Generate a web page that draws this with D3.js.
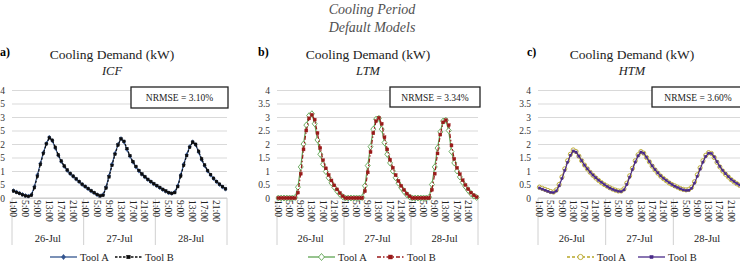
<!DOCTYPE html>
<html>
<head>
<script src="https://d3js.org/d3.v7.min.js"></script>
<style>
  body { margin: 0; background: #fff; }
  svg text { font-family: "Liberation Serif", "DejaVu Serif", serif !important; }
</style>
</head>
<body>
<script>
// ---- data ----
const days = ["26-Jul", "27-Jul", "28-Jul"];
const hourLabels = d3.range(1, 25).map(h => h + ":00");
const yTicks = [0, 0.5, 1, 1.5, 2, 2.5, 3, 3.5, 4];

const icfToolA = [0.27,0.22,0.18,0.13,0.09,0.07,0.12,0.42,0.85,1.28,1.68,2.02,2.25,2.12,1.85,1.58,1.35,1.17,1.02,0.9,0.8,0.7,0.6,0.5,
                  0.42,0.34,0.26,0.19,0.12,0.08,0.12,0.4,0.82,1.25,1.65,1.98,2.2,2.08,1.8,1.55,1.33,1.15,1.0,0.88,0.78,0.68,0.6,0.52,
                  0.45,0.38,0.31,0.25,0.19,0.17,0.22,0.45,0.85,1.25,1.6,1.9,2.08,1.97,1.7,1.42,1.2,1.0,0.85,0.72,0.6,0.5,0.41,0.33];
const icfToolB = [0.26,0.21,0.17,0.12,0.08,0.06,0.1,0.38,0.8,1.24,1.65,2.0,2.23,2.14,1.88,1.6,1.37,1.19,1.04,0.91,0.81,0.71,0.61,0.51,
                  0.43,0.35,0.27,0.2,0.13,0.08,0.1,0.37,0.78,1.21,1.62,1.96,2.19,2.1,1.83,1.57,1.35,1.17,1.02,0.89,0.79,0.69,0.61,0.53,
                  0.46,0.39,0.32,0.26,0.2,0.17,0.2,0.42,0.81,1.21,1.57,1.88,2.07,1.99,1.73,1.45,1.22,1.02,0.87,0.73,0.61,0.51,0.42,0.34];

const ltmToolA = [0,0,0,0,0,0,0.02,0.4,1.15,2.0,2.7,3.05,3.12,2.75,2.15,1.62,1.25,0.98,0.75,0.56,0.4,0.26,0.14,0.05,
                  0,0,0,0,0,0,0.02,0.45,1.2,1.9,2.55,2.92,2.95,2.55,2.05,1.62,1.3,1.0,0.75,0.55,0.38,0.24,0.12,0.04,
                  0,0,0,0,0,0,0.03,0.5,1.15,1.85,2.45,2.85,2.88,2.5,1.72,1.3,1.0,0.78,0.58,0.42,0.28,0.16,0.07,0.02];
const ltmToolB = [0,0,0,0,0,0,0,0.2,0.9,1.8,2.5,2.95,3.08,2.9,2.4,1.85,1.4,1.1,0.85,0.65,0.47,0.32,0.18,0.07,
                  0,0,0,0,0,0,0,0.25,0.95,1.7,2.4,2.85,2.97,2.75,2.25,1.8,1.42,1.12,0.85,0.63,0.45,0.3,0.16,0.06,
                  0,0,0,0,0,0,0,0.3,0.9,1.65,2.35,2.8,2.88,2.7,1.95,1.45,1.12,0.88,0.66,0.48,0.33,0.2,0.1,0.03];

const htmToolA = [0.4,0.36,0.32,0.28,0.24,0.22,0.3,0.5,0.78,1.08,1.38,1.62,1.78,1.72,1.55,1.38,1.22,1.08,0.95,0.84,0.74,0.65,0.57,0.5,
                  0.44,0.38,0.33,0.29,0.26,0.26,0.34,0.55,0.82,1.1,1.38,1.6,1.72,1.66,1.5,1.34,1.18,1.04,0.92,0.81,0.72,0.64,0.56,0.5,
                  0.45,0.4,0.35,0.32,0.3,0.32,0.4,0.6,0.86,1.12,1.38,1.58,1.68,1.65,1.5,1.32,1.15,1.0,0.88,0.78,0.68,0.6,0.53,0.47];
const htmToolB = [0.37,0.33,0.29,0.25,0.21,0.2,0.26,0.45,0.72,1.02,1.32,1.58,1.74,1.7,1.55,1.38,1.22,1.08,0.96,0.85,0.75,0.66,0.58,0.5,
                  0.43,0.37,0.32,0.28,0.25,0.24,0.3,0.5,0.77,1.05,1.33,1.56,1.7,1.66,1.51,1.35,1.19,1.05,0.93,0.82,0.73,0.65,0.57,0.5,
                  0.44,0.39,0.34,0.3,0.28,0.29,0.36,0.55,0.8,1.07,1.33,1.54,1.66,1.65,1.52,1.34,1.17,1.02,0.9,0.79,0.69,0.61,0.54,0.48];

const panels = [
  {tag: "a)", model: "ICF", nrmse: "NRMSE = 3.10%", a: icfToolA, b: icfToolB},
  {tag: "b)", model: "LTM", nrmse: "NRMSE = 3.34%", a: ltmToolA, b: ltmToolB},
  {tag: "c)", model: "HTM", nrmse: "NRMSE = 3.60%", a: htmToolA, b: htmToolB}
];

// ---- layout / styles ----
const FONT = "Liberation Serif, DejaVu Serif, serif";
const layout = [
  {left: 12, right: 227, tagX: 0, titleX: 112, box: [131, 87, 97, 21], legA: 50, legB: 115},
  {left: 277, right: 478, tagX: 258, titleX: 368, box: [390, 87, 90, 20], legA: 308, legB: 377},
  {left: 538, right: 741, tagX: 527, titleX: 632, box: [652, 87, 92, 20], legA: 567, legB: 638}
];
const styles = [
  {a: {color: "#34558f", dash: null, marker: "diamond", hollow: false, size: 3.4},
   b: {color: "#0d0d0d", dash: "2.5,1.5", marker: "square", hollow: false, size: 2.6}},
  {a: {color: "#5fa452", dash: null, marker: "diamond", hollow: true, size: 5},
   b: {color: "#9a1a1a", dash: "4,2,1.5,2", marker: "square", hollow: false, size: 3}},
  {a: {color: "#b8a628", dash: "3,2", marker: "circle", hollow: true, size: 4.2},
   b: {color: "#4a2a88", dash: null, marker: "square", hollow: false, size: 2.2}}
];

const W = 740, H = 266, yTop = 90, yBot = 198, axisBottom = 245;

const svg = d3.select("body").append("svg")
  .attr("width", W).attr("height", H)
  .attr("font-family", FONT)
  .style("background", "#fff");

svg.append("text").attr("x", 372).attr("y", 14).attr("text-anchor", "middle")
  .attr("font-size", 14).attr("font-style", "italic").attr("fill", "#505050").text("Cooling Period");
svg.append("text").attr("x", 372).attr("y", 32).attr("text-anchor", "middle")
  .attr("font-size", 14).attr("font-style", "italic").attr("fill", "#505050").text("Default Models");

const y = d3.scaleLinear().domain([0, 4]).range([yBot, yTop]);

function marker(sel, st, cx, cy) {
  const s = st.size;
  let m;
  if (st.marker === "diamond") {
    m = sel.append("path").attr("d", `M${cx},${cy - s / 2 - 0.5}L${cx + s / 2},${cy}L${cx},${cy + s / 2 + 0.5}L${cx - s / 2},${cy}Z`);
  } else if (st.marker === "circle") {
    m = sel.append("circle").attr("cx", cx).attr("cy", cy).attr("r", s / 2);
  } else {
    m = sel.append("rect").attr("x", cx - s / 2).attr("y", cy - s / 2).attr("width", s).attr("height", s);
  }
  m.attr("fill", st.hollow ? "#fff" : st.color).attr("stroke", st.color).attr("stroke-width", st.hollow ? 0.9 : 0.4);
}

panels.forEach((p, k) => {
  const L = layout[k], S = styles[k];
  const g = svg.append("g");
  const x = d3.scaleBand().domain(d3.range(72)).range([L.left, L.right]);
  const cx = i => x(i) + x.bandwidth() / 2;

  // titles
  g.append("text").attr("x", L.tagX).attr("y", 56).attr("font-size", 12).attr("font-weight", "bold").text(p.tag);
  g.append("text").attr("x", L.titleX).attr("y", 59).attr("text-anchor", "middle").attr("font-size", 13.5)
    .attr("fill", "#222").text("Cooling Demand (kW)");
  g.append("text").attr("x", L.titleX).attr("y", 75).attr("text-anchor", "middle").attr("font-size", 12.5)
    .attr("font-style", "italic").attr("fill", "#222").text(p.model);

  // y axis with gridlines
  const ya = g.append("g").attr("transform", `translate(${L.left},0)`)
    .call(d3.axisLeft(y).tickValues(yTicks).tickSize(-(L.right - L.left)).tickPadding(7)
      .tickFormat(d => d3.format("")(d)));
  ya.attr("font-family", FONT);
  ya.select(".domain").remove();
  ya.selectAll(".tick line").attr("stroke", "#d9d9d9").attr("stroke-width", 1);
  ya.selectAll(".tick text").attr("font-size", 9.5).attr("fill", "#333");

  // NRMSE box
  g.append("rect").attr("x", L.box[0]).attr("y", L.box[1]).attr("width", L.box[2]).attr("height", L.box[3])
    .attr("fill", "#fff").attr("stroke", "#222").attr("stroke-width", 1.3);
  g.append("text").attr("x", L.box[0] + L.box[2] / 2).attr("y", L.box[1] + L.box[3] / 2 + 3.5)
    .attr("text-anchor", "middle").attr("font-size", 9.5).attr("fill", "#222").text(p.nrmse);

  // x axis: hours and days
  g.append("line").attr("x1", L.left).attr("x2", L.right).attr("y1", yBot).attr("y2", yBot)
    .attr("stroke", "#c8c8c8");
  const dayW = (L.right - L.left) / 3;
  d3.range(4).forEach(d => {
    g.append("line").attr("x1", L.left + d * dayW).attr("x2", L.left + d * dayW)
      .attr("y1", yBot).attr("y2", axisBottom).attr("stroke", "#d0d0d0");
  });
  days.forEach((dl, d) => {
    g.append("text").attr("x", L.left + (d + 0.5) * dayW).attr("y", 242).attr("text-anchor", "middle")
      .attr("font-size", 10.5).attr("fill", "#222").text(dl);
    hourLabels.forEach((hl, h) => {
      if (h % 4 !== 0) return;
      const xx = cx(d * 24 + h);
      g.append("text").attr("transform", `translate(${xx - 3.4},${yBot + 2}) rotate(90)`)
        .attr("font-size", 9.5).attr("fill", "#222").text(hl);
    });
  });

  // series
  const line = d3.line().x((d, i) => cx(i)).y(d => y(d));
  [["a", p.a], ["b", p.b]].forEach(([key, vals]) => {
    const st = S[key];
    g.append("path").datum(vals).attr("d", line).attr("fill", "none")
      .attr("stroke", st.color).attr("stroke-width", 1.2)
      .attr("stroke-dasharray", st.dash);
    const mg = g.append("g");
    vals.forEach((v, i) => marker(mg, st, cx(i), y(v)));
  });

  // legend
  [["a", "Tool A", L.legA], ["b", "Tool B", L.legB]].forEach(([key, name, lx]) => {
    const st = S[key];
    g.append("line").attr("x1", lx).attr("x2", lx + 27).attr("y1", 257).attr("y2", 257)
      .attr("stroke", st.color).attr("stroke-width", 1.3).attr("stroke-dasharray", st.dash);
    marker(g, Object.assign({}, st, {size: st.size + 1}), lx + 13.5, 257);
    g.append("text").attr("x", lx + 30).attr("y", 260.5).attr("font-size", 10.5).attr("fill", "#222").text(name);
  });
});
</script>
</body>
</html>
